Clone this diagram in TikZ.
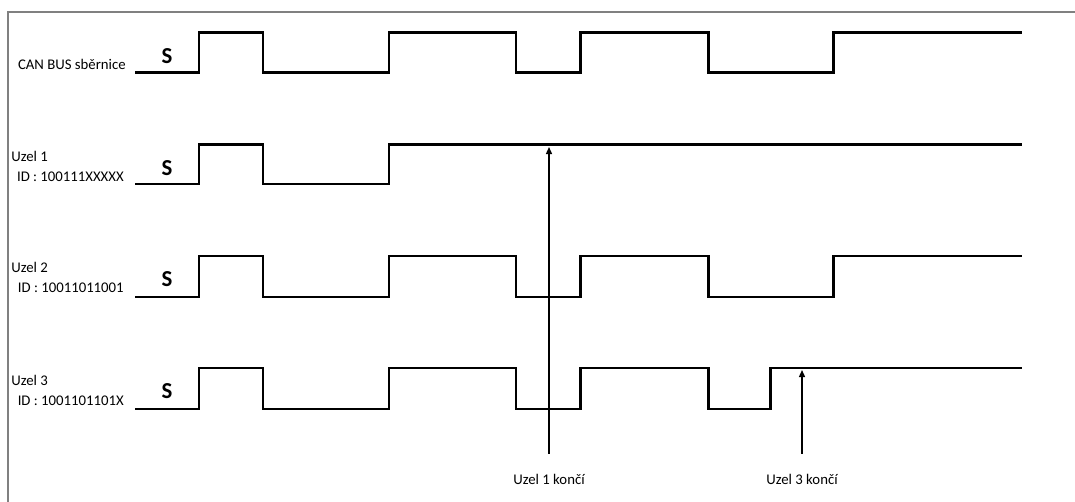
\documentclass[tikz,border=0pt]{standalone}
\usepackage{fontspec}
\setmainfont{Carlito}
\usetikzlibrary{positioning, calc, arrows.meta}

\begin{document}
\begin{tikzpicture}[
        x=0.02cm, y=-0.02cm,
        signal/.style={
            line width=1.7pt,
            line join=miter
        },
        marker/.style={
            line width=0.8pt,
            -{Triangle[length=4pt, width=3.4pt]}
        },
        rowlabel/.style={
            inner sep=0pt,
            font=\fontsize{8.4}{10}\selectfont
        },
        startbit/.style={
            inner sep=0pt,
            font=\fontsize{13}{14}\selectfont\bfseries
        }
    ]

        \useasboundingbox (0,0) rectangle (1075,502);

        % Frame (top and left edge only)
        \draw[gray, line width=0.6pt] (8,502) -- (8,12) -- (1075,12);

        % Row labels
        \node[rowlabel, anchor=east] (bus) at (126,64) {CAN BUS sběrnice};
        \node[rowlabel, anchor=west] (u1) at (11,156) {Uzel 1};
        \node[rowlabel, anchor=east] (id1) at (124,177) {ID : 100111XXXXX};
        \node[rowlabel, anchor=west] (u2) at (11,267) {Uzel 2};
        \node[rowlabel, anchor=east] (id2) at (124,288) {ID : 10011011001};
        \node[rowlabel, anchor=west] (u3) at (11,380) {Uzel 3};
        \node[rowlabel, anchor=east] (id3) at (124,401) {ID : 1001101101X};

        % Start bits
        \node[startbit] (s0) at (167,56) {S};
        \node[startbit] (s1) at (167,168) {S};
        \node[startbit] (s2) at (167,279) {S};
        \node[startbit] (s3) at (167,391) {S};

        % CAN BUS line
        \draw[signal] (135,73) -| (199,33) -| (263,73) -| (389,33) -| (516,73)
            -| (580,33) -| (708,73) -| (833,33) -- (1022,33);

        % Uzel 1
        \draw[signal] (135,184) -| (199,145) -| (263,184) -| (389,145) -- (1022,145);

        % Uzel 2
        \draw[signal] (135,297) -| (199,256) -| (263,297) -| (389,256) -| (516,297)
            -| (580,256) -| (708,297) -| (833,256) -- (1022,256);

        % Uzel 3
        \draw[signal] (135,409) -| (199,368) -| (263,409) -| (389,368) -| (516,409)
            -| (580,368) -| (708,409) -| (770,368) -- (1022,368);

        % End markers
        \node[rowlabel] (end1) at (549,479) {Uzel 1 končí};
        \coordinate (tail1) at (549,454);
        \coordinate (tip1) at (549,147);
        \draw[marker] (tail1) -- (tip1);

        \node[rowlabel] (end3) at (802,479) {Uzel 3 končí};
        \coordinate (tail3) at (802,454);
        \coordinate (tip3) at (802,370);
        \draw[marker] (tail3) -- (tip3);

    \end{tikzpicture}
\end{document}
